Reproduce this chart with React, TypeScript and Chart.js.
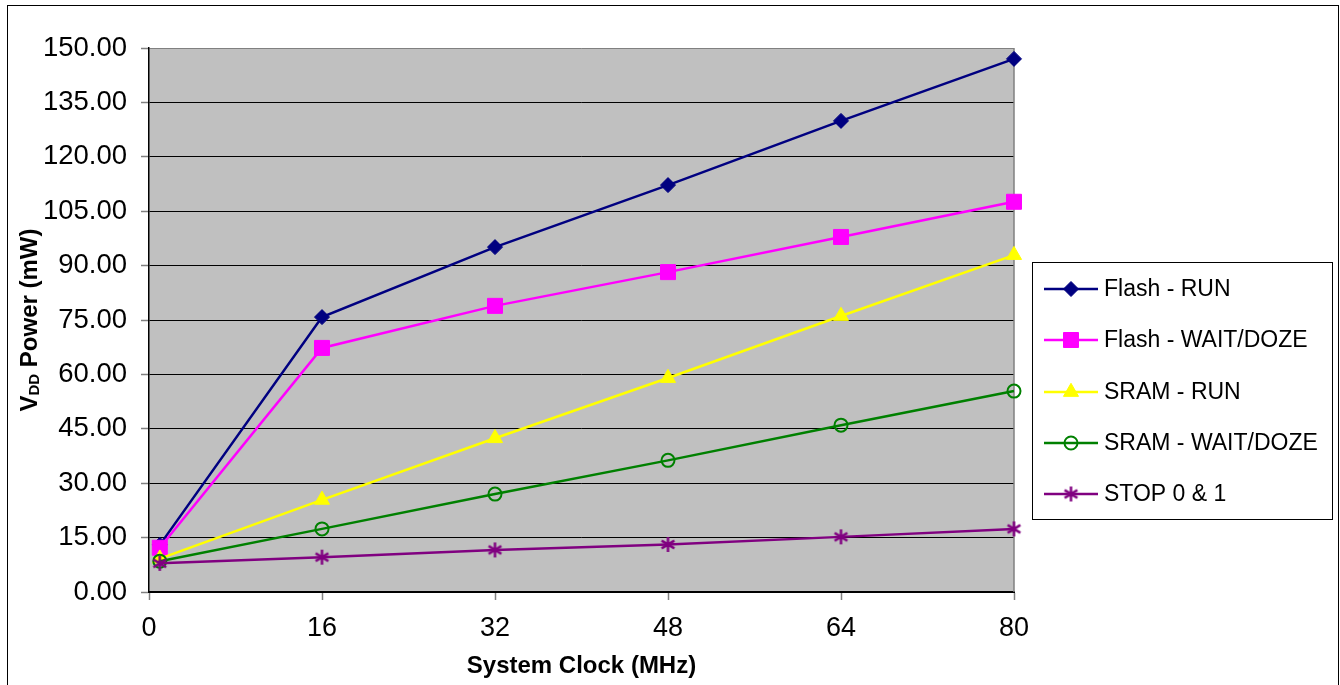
import React, { useEffect, useRef } from 'react';
import { Chart, registerables } from 'chart.js';
import { drawPoint } from 'chart.js/helpers';

Chart.register(...registerables);

// ---- data ----
const xValues = [1, 16, 32, 48, 64, 80];
const flashRun = [13.0, 75.8, 95.1, 112.2, 129.9, 147.0];
const flashWait = [12.2, 67.3, 78.9, 88.2, 97.9, 107.6];
const sramRun = [9.2, 25.4, 42.4, 59.0, 76.1, 92.9];
const sramWait = [8.5, 17.4, 27.0, 36.3, 46.0, 55.4];
const stopMode = [7.9, 9.6, 11.6, 13.1, 15.2, 17.4];
const seriesNames = ['Flash - RUN', 'Flash - WAIT/DOZE', 'SRAM - RUN', 'SRAM - WAIT/DOZE', 'STOP 0 & 1'];
const seriesColors = ['#000080', '#FF00FF', '#FFFF00', '#008000', '#800080'];
const xTitle = 'System Clock (MHz)';
const yTitleMain = 'V';
const yTitleSub = 'DD';
const yTitleRest = ' Power (mW)';

const FONT = "'Liberation Sans', Arial, Helvetica, sans-serif";

function makeAsterisk(color: string, size: number): HTMLCanvasElement {
  const c = document.createElement('canvas');
  c.width = size;
  c.height = size;
  const g = c.getContext('2d')!;
  g.strokeStyle = color;
  g.lineWidth = 2.5;
  const m = size / 2;
  const r = size / 2 - 1;
  g.beginPath();
  g.moveTo(m, m - r);
  g.lineTo(m, m + r);
  const d = r * 0.85;
  g.moveTo(m - d, m - d * 0.6);
  g.lineTo(m + d, m + d * 0.6);
  g.moveTo(m + d, m - d * 0.6);
  g.lineTo(m - d, m + d * 0.6);
  g.stroke();
  return c;
}

export default function App() {
  const ref = useRef<HTMLCanvasElement | null>(null);

  useEffect(() => {
    document.body.style.margin = '0';
    const canvas = ref.current;
    if (!canvas) return;
    const star = makeAsterisk(seriesColors[4], 17);

    const pointStyles: any[] = ['rectRot', 'rect', 'triangle', 'circle', star];
    const radii = [7.5, 10.6, 8.7, 6.5, 8.5];
    const bgs = [seriesColors[0], seriesColors[1], seriesColors[2], 'rgba(0,0,0,0)', seriesColors[4]];
    const allData = [flashRun, flashWait, sramRun, sramWait, stopMode];

    const datasets = allData.map((vals, i) => ({
      label: seriesNames[i],
      data: vals.map((v, j) => ({ x: xValues[j], y: v })),
      borderColor: seriesColors[i],
      backgroundColor: bgs[i],
      pointBackgroundColor: bgs[i],
      pointBorderColor: seriesColors[i],
      pointBorderWidth: i === 3 ? 2 : 1,
      borderWidth: 2.5,
      pointStyle: pointStyles[i],
      pointRadius: radii[i],
      tension: 0,
      clip: false as any,
      order: 5 - i,
    }));

    const framePlugin = {
      id: 'frame',
      beforeDraw(chart: any) {
        const { ctx, chartArea: a } = chart;
        ctx.save();
        ctx.fillStyle = '#ffffff';
        ctx.fillRect(0, 0, chart.width, chart.height);
        ctx.fillStyle = '#c0c0c0';
        ctx.fillRect(a.left, a.top, a.right - a.left, a.bottom - a.top);
        ctx.restore();
      },
      beforeDatasetsDraw(chart: any) {
        const { ctx, chartArea: a } = chart;
        ctx.save();
        ctx.strokeStyle = '#808080';
        ctx.lineWidth = 1.5;
        ctx.beginPath();
        ctx.moveTo(a.right, a.top);
        ctx.lineTo(a.right, a.bottom);
        ctx.stroke();
        ctx.restore();
      },
      afterDraw(chart: any) {
        const { ctx, chartArea: a } = chart;
        ctx.save();
        // outer frame
        ctx.strokeStyle = '#000';
        ctx.lineWidth = 1;
        ctx.strokeRect(7.5, 5.5, 1331, 720);

        // x title
        ctx.fillStyle = '#000';
        ctx.font = `bold 24px ${FONT}`;
        ctx.textAlign = 'center';
        ctx.textBaseline = 'middle';
        ctx.fillText(xTitle, (a.left + a.right) / 2, 666);

        // y title with subscript
        ctx.save();
        ctx.translate(30, (a.top + a.bottom) / 2);
        ctx.rotate(-Math.PI / 2);
        ctx.textAlign = 'left';
        ctx.textBaseline = 'middle';
        const big = `bold 24px ${FONT}`;
        const small = `bold 15px ${FONT}`;
        ctx.font = big;
        const w1 = ctx.measureText(yTitleMain).width;
        const w3 = ctx.measureText(yTitleRest).width;
        ctx.font = small;
        const w2 = ctx.measureText(yTitleSub).width;
        let x = -(w1 + w2 + w3) / 2;
        ctx.font = big;
        ctx.fillText(yTitleMain, x, 0);
        x += w1;
        ctx.font = small;
        ctx.fillText(yTitleSub, x, 5);
        x += w2;
        ctx.font = big;
        ctx.fillText(yTitleRest, x, 0);
        ctx.restore();

        // legend
        const lx = 1032, ly = 262, lw = 300, lh = 257;
        ctx.fillStyle = '#fff';
        ctx.fillRect(lx, ly, lw, lh);
        ctx.strokeStyle = '#000';
        ctx.lineWidth = 1;
        ctx.strokeRect(lx + 0.5, ly + 0.5, lw, lh);
        const ys = [289, 340, 392, 443, 494];
        seriesNames.forEach((name, i) => {
          const y = ys[i];
          ctx.strokeStyle = seriesColors[i];
          ctx.lineWidth = 2.5;
          ctx.beginPath();
          ctx.moveTo(1044, y);
          ctx.lineTo(1098, y);
          ctx.stroke();
          ctx.fillStyle = bgs[i];
          ctx.strokeStyle = seriesColors[i];
          ctx.lineWidth = i === 3 ? 2 : 1;
          drawPoint(ctx, { pointStyle: pointStyles[i], radius: radii[i], rotation: 0, borderWidth: i === 3 ? 2 : 1 } as any, 1071, y);
          ctx.fillStyle = '#000';
          ctx.font = `23px ${FONT}`;
          ctx.textAlign = 'left';
          ctx.textBaseline = 'middle';
          ctx.fillText(name, 1104, y + 1);
        });
        ctx.restore();
      },
    };

    const chart = new Chart(canvas, {
      type: 'line',
      data: { datasets: datasets as any },
      options: {
        animation: false,
        responsive: false,
        maintainAspectRatio: false,
        layout: { padding: { top: 48, right: 326, left: 0, bottom: 0 } },
        plugins: { legend: { display: false }, tooltip: { enabled: false } },
        scales: {
          x: {
            type: 'linear',
            min: 0,
            max: 80,
            ticks: { stepSize: 16, color: '#000', font: { family: FONT, size: 27 }, padding: 12, maxRotation: 0 },
            grid: { drawOnChartArea: false, tickLength: 8, tickColor: '#808080', tickWidth: 1.5 },
            border: { color: '#000', width: 2 },
            afterFit: (s: any) => { s.height = 93; },
          },
          y: {
            min: 0,
            max: 150,
            ticks: { stepSize: 15, color: '#000', font: { family: FONT, size: 27.5 }, padding: 14, callback: (v: any) => Number(v).toFixed(2) },
            grid: {
              color: (c: any) => (c.tick && c.tick.value === 150 ? '#808080' : '#000'),
              lineWidth: 1,
              tickLength: 8,
              tickColor: '#808080',
              tickWidth: 1.5,
            },
            border: { color: '#000', width: 1.5 },
            afterFit: (s: any) => { s.width = 149; },
          },
        },
      },
      plugins: [framePlugin],
    });
    return () => chart.destroy();
  }, []);

  return (
    <div style={{ width: 1340, height: 685 }}>
      <canvas ref={ref} width={1340} height={685} style={{ display: 'block' }} />
    </div>
  );
}
